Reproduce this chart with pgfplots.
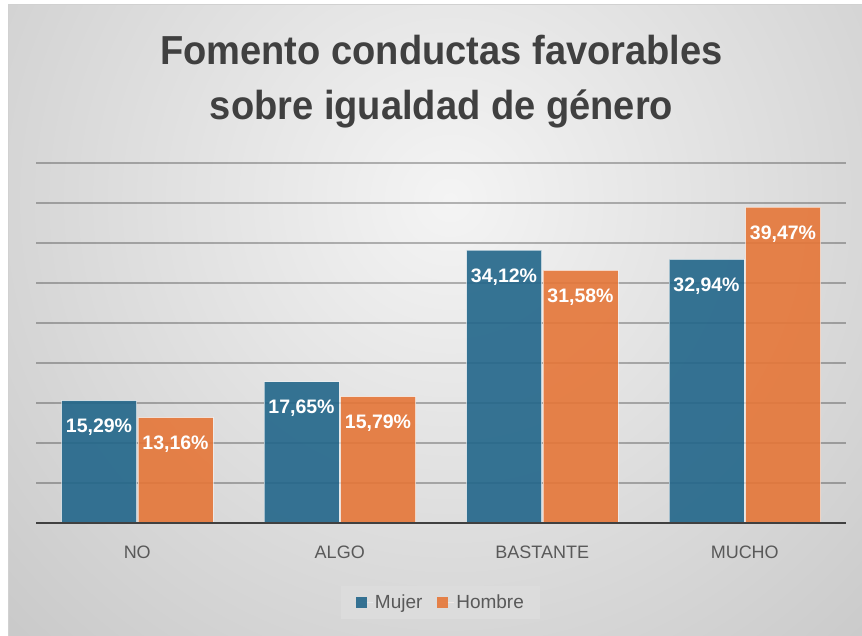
\documentclass[border=0pt]{standalone}
\usepackage{pgfplots}
\pgfplotsset{compat=1.18}
\usepackage{fontspec}
\setmainfont{Liberation Sans}
\definecolor{cblue}{HTML}{22668A}
\definecolor{corange}{HTML}{E57638}
\definecolor{ctitle}{HTML}{404040}
\definecolor{ctext}{HTML}{595959}
\definecolor{bgin}{HTML}{F4F4F4}
\definecolor{bgout}{HTML}{C4C4C4}
\definecolor{legbg}{HTML}{DCDCDC}
\begin{document}
\begin{tikzpicture}
\path[use as bounding box] (0pt,0pt) rectangle (862pt,636pt);
\fill[white] (0pt,0pt) rectangle (862pt,636pt);
\begin{scope}
\clip (8pt,0pt) rectangle (862pt,631pt);
\shade[inner color=bgin, outer color=bgout] (-250pt,-264pt) rectangle (1150pt,1136pt);
\end{scope}
\draw[color=black!18, line width=1pt] (8pt,0pt) -- (8pt,631pt) -- (862pt,631pt);
\begin{axis}[
  at={(36pt,113pt)}, anchor=south west,
  scale only axis, width=810pt, height=360pt,
  clip=false,
  xmin=-0.5, xmax=3.5, ymin=0, ymax=45,
  ybar=1.5pt, bar width=75pt,
  axis line style={draw=none},
  major tick length=0pt,
  xtick={0,1,2,3},
  xticklabels={NO, ALGO, BASTANTE, MUCHO},
  xticklabel style={font=\fontsize{18}{20}\selectfont, text=ctext, inner sep=0pt, anchor=north, yshift=-23pt},
  ytick={0,5,...,45},
  yticklabels={},
  ymajorgrids,
  major grid style={draw=black, draw opacity=0.27, line width=1.2pt},
  point meta=explicit symbolic,
  nodes near coords,
  every node near coord/.append style={anchor=north, inner sep=0pt, yshift=-18pt, font=\fontsize{19.5}{21}\selectfont\bfseries, text=white},
  legend columns=2,
  legend style={at={(0.4994,-0.2208)}, anchor=center, fill=legbg, draw=none,
    font=\fontsize{19}{21}\selectfont, text=ctext, inner xsep=14pt, inner ysep=7pt,
    /tikz/every even column/.append style={column sep=12pt}},
  legend image code/.code={\path (0pt,0pt) -- (17pt,0pt);\fill[#1,draw=none] (0pt,-5.5pt) rectangle (11pt,5.5pt);},
]
\addplot[fill=cblue, fill opacity=0.9, draw=white, draw opacity=0.55, line width=0.8pt, text opacity=1]
  coordinates {(0,15.29) [15,29\%] (1,17.65) [17,65\%] (2,34.12) [34,12\%] (3,32.94) [32,94\%]};
\addplot[fill=corange, fill opacity=0.9, draw=white, draw opacity=0.55, line width=0.8pt, text opacity=1]
  coordinates {(0,13.16) [13,16\%] (1,15.79) [15,79\%] (2,31.58) [31,58\%] (3,39.47) [39,47\%]};
\legend{Mujer, Hombre}
\draw[color=ctitle, line width=2.5pt] (rel axis cs:0,0) -- (rel axis cs:1,0);
\end{axis}
\node[anchor=base, inner sep=0pt, text=ctitle] at (441.5pt,571pt)
  {\scalebox{0.94}[1]{\fontsize{40.5}{48}\selectfont\bfseries Fomento conductas favorables}};
\node[anchor=base, inner sep=0pt, text=ctitle] at (441.5pt,516pt)
  {\scalebox{0.94}[1]{\fontsize{40.5}{48}\selectfont\bfseries sobre igualdad de género}};
\end{tikzpicture}
\end{document}
